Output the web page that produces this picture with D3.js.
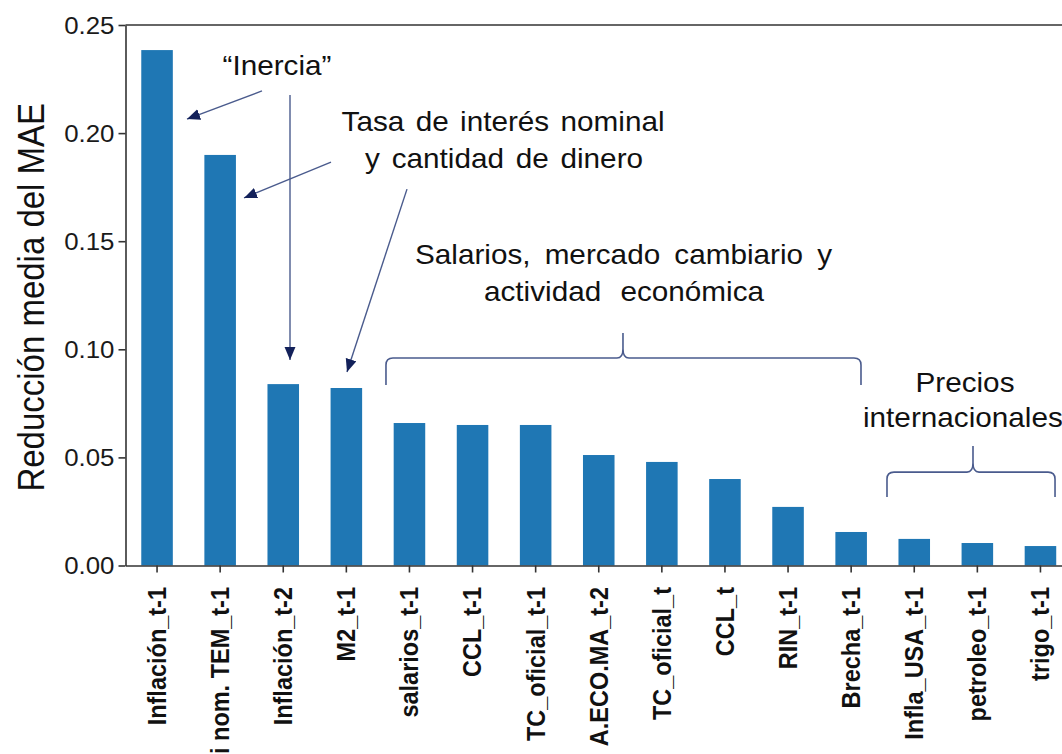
<!DOCTYPE html>
<html><head><meta charset="utf-8">
<script src="https://cdn.jsdelivr.net/npm/d3@7"></script>
<style>body{margin:0;background:#fff} svg{display:block;font-family:"Liberation Sans",Arial,sans-serif}</style>
</head><body><svg id="c" width="1062" height="754"></svg>
<script>
// ---- data ----
const categories = ["Inflación_t-1","i nom. TEM_t-1","Inflación_t-2","M2_t-1","salarios_t-1","CCL_t-1","TC_oficial_t-1","A.ECO.MA_t-2","TC_oficial_t","CCL_t","RIN_t-1","Brecha_t-1","Infla_USA_t-1","petroleo_t-1","trigo_t-1"];
const values = [0.2384,0.1899,0.0839,0.0821,0.0659,0.0650,0.0650,0.0511,0.0479,0.0400,0.0271,0.0155,0.0123,0.0104,0.0090];
const yTicks = [0,0.05,0.10,0.15,0.20,0.25];
const yLabel = "Reducción media del MAE";
// annotation anchors in data space: x = category index, y = value
const arrowX1 = [1.663,2.107,2.757,3.961];
const arrowY1 = [0.2195,0.2176,0.1866,0.1741];
const arrowX2 = [0.475,2.107,1.378,3.010];
const arrowY2 = [0.2065,0.0951,0.1700,0.0895];
const braceXa = [3.628,11.568];
const braceXb = [11.156,14.231];
const braceXc = [7.384,12.931];
const braceYend = [0.0835,0.0317];
const braceYh = [0.0960,0.0432];
const braceYtip = [0.1075,0.0553];
const noteText = ["“Inercia”","Tasa de interés nominal","y cantidad de dinero","Salarios, mercado cambiario y","actividad económica","Precios","internacionales"];
const noteX = [1.901,5.483,5.499,7.392,7.400,12.804,11.188];
const noteY = [0.2269,0.2010,0.1839,0.1395,0.1223,0.0803,0.0641];
const noteW = [110,323,278,417,280,99,200];

// ---- layout ----
const svg = d3.select("#c");
const L = 125.5, R = 1072, T = 25, B = 565.5;
const x = d3.scaleBand().domain(categories).range([L,R]).paddingInner(0.5).paddingOuter(0.25);
const xl = d3.scaleLinear().domain([-0.5,categories.length-0.5]).range([L,R]);
const y = d3.scaleLinear().domain([0,0.25]).range([B,T]);
const axisColor = "#333";
const sx = 1.1;

// bars
svg.append("g").selectAll("rect").data(values).join("rect")
  .attr("x",(d,i)=>x(categories[i])).attr("width",x.bandwidth())
  .attr("y",d=>y(d)).attr("height",d=>y(0)-y(d)).attr("fill","#1f77b4");

// y axis
const ya = svg.append("g").attr("transform",`translate(${L},0)`)
  .call(d3.axisLeft(y).tickValues(yTicks).tickFormat(d3.format(".2f")).tickSize(7).tickSizeOuter(0));
ya.select(".domain").attr("stroke",axisColor).attr("stroke-width",1.6);
ya.selectAll(".tick line").attr("stroke",axisColor).attr("stroke-width",1.6);
ya.selectAll(".tick text").attr("x",null).attr("dy","0.35em")
  .attr("transform",`translate(-11,0) scale(${sx},1)`)
  .attr("font-size",23.5).attr("fill","#1a1a1a").attr("font-family","Liberation Sans, Arial, sans-serif");

// x axis
const xa = svg.append("g").attr("transform",`translate(0,${B})`)
  .call(d3.axisBottom(x).tickSize(7).tickSizeOuter(0));
xa.select(".domain").attr("stroke",axisColor).attr("stroke-width",1.6);
xa.selectAll(".tick line").attr("stroke",axisColor).attr("stroke-width",1.6);
xa.selectAll(".tick text").attr("y",null).attr("dy",null)
  .attr("transform",`translate(0,21.5) scale(${sx},1) rotate(-90)`)
  .attr("text-anchor","end").attr("dominant-baseline","central")
  .attr("font-size",23.5).attr("font-weight","bold").attr("fill","#111")
  .attr("font-family","Liberation Sans, Arial, sans-serif");

// top spine
svg.append("line").attr("x1",L).attr("x2",R).attr("y1",T).attr("y2",T)
  .attr("stroke",axisColor).attr("stroke-width",1.6);

// y label
svg.append("text").attr("transform",`translate(31,${(T+B)/2+2}) scale(${sx},1) rotate(-90)`)
  .attr("text-anchor","middle").attr("dominant-baseline","central")
  .attr("font-size",33).attr("fill","#111").text(yLabel);

// arrows
const defs = svg.append("defs");
defs.append("marker").attr("id","ah").attr("markerUnits","userSpaceOnUse")
  .attr("markerWidth",14).attr("markerHeight",12).attr("refX",13).attr("refY",5.5)
  .attr("orient","auto")
  .append("path").attr("d","M0,0 L13,5.5 L0,11 Z").attr("fill","#13215a");
const lineColor = "#4a5b8d";
svg.append("g").selectAll("line").data(arrowX1).join("line")
  .attr("x1",(d,i)=>xl(arrowX1[i])).attr("y1",(d,i)=>y(arrowY1[i]))
  .attr("x2",(d,i)=>xl(arrowX2[i])).attr("y2",(d,i)=>y(arrowY2[i]))
  .attr("stroke",lineColor).attr("stroke-width",1.4).attr("marker-end","url(#ah)");

// braces
function bracePath(i){
  const x1=xl(braceXa[i]), x2=xl(braceXb[i]), xc=xl(braceXc[i]);
  const ye=y(braceYend[i]), yh=y(braceYh[i]), yt=y(braceYtip[i]);
  const r=7;
  return `M${x1},${ye} L${x1},${yh+r} Q${x1},${yh} ${x1+r},${yh} L${xc-6},${yh} Q${xc},${yh} ${xc},${yh-9} L${xc},${yt} `+
         `M${xc},${yh-9} Q${xc},${yh} ${xc+6},${yh} L${x2-r},${yh} Q${x2},${yh} ${x2},${yh+r} L${x2},${ye}`;
}
svg.append("g").selectAll("path").data(braceXa).join("path")
  .attr("d",(d,i)=>bracePath(i)).attr("fill","none").attr("stroke",lineColor).attr("stroke-width",1.6);

// notes
const ng = svg.append("g").selectAll("g").data(noteText).join("g")
  .attr("transform",(d,i)=>`translate(${xl(noteX[i])},${y(noteY[i])})`);
ng.append("text").attr("transform",`scale(${sx},1)`)
  .attr("text-anchor",(d,i)=>i===6?"start":"middle")
  .attr("font-size",27).attr("fill","#111").text(d=>d)
  .each(function(d,i){
    const el=this, n=(d.match(/ /g)||[]).length;
    const w=el.getComputedTextLength()*sx;
    if(n>0 && noteW[i]>w){ d3.select(el).style("word-spacing",((noteW[i]-w)/n/sx)+"px"); }
  });
</script></body></html>
